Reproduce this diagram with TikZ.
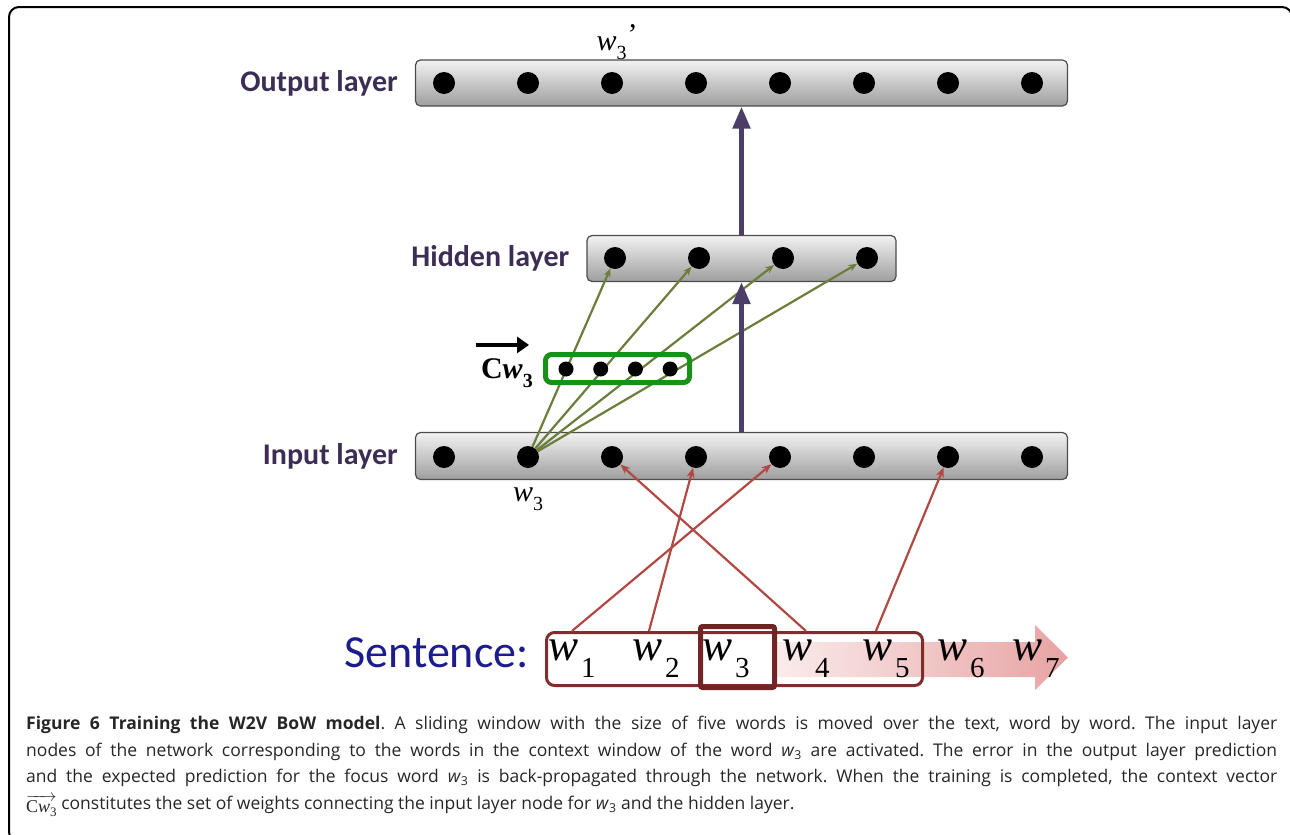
\documentclass[tikz,border=0pt]{standalone}
\usepackage{fontspec}
\setmainfont{Liberation Serif}
\newfontfamily\labelfont{Carlito}
\newfontfamily\captionfont{Open Sans}
\usetikzlibrary{arrows.meta,positioning}
\frenchspacing

\definecolor{layerink}{RGB}{60,45,85}
\definecolor{flowpurple}{RGB}{75,62,105}
\definecolor{ctxgreen}{RGB}{107,125,58}
\definecolor{boxgreen}{RGB}{25,145,25}
\definecolor{ctxred}{RGB}{178,72,66}
\definecolor{winred}{RGB}{128,45,45}
\definecolor{focusred}{RGB}{112,36,36}
\definecolor{sentblue}{RGB}{28,28,140}
\definecolor{pinklo}{RGB}{250,235,235}
\definecolor{pinkhi}{RGB}{232,163,163}

\newcommand{\sentword}[1]{{\fontsize{45}{45}\selectfont\itshape w}\kern3pt\raisebox{-17pt}{\fontsize{29}{29}\selectfont #1}}
\newcommand{\smallw}{{\fontsize{30}{30}\selectfont\itshape w}\raisebox{-9pt}{\fontsize{20}{20}\selectfont 3}}
\newcommand{\cwvec}{\raisebox{-3pt}{\smash{$\overrightarrow{\hbox{\rmfamily\fontsize{18}{18}\selectfont C\textit{w}\raisebox{-4pt}{\fontsize{13}{13}\selectfont 3}}}$}}}

\begin{document}
\begin{tikzpicture}[x=1pt,y=-1pt,
  layerbar/.style={draw=black!70, line width=1.2pt, rounded corners=5pt,
    top color=black!5, bottom color=black!38, minimum height=46pt},
  layerlabel/.style={font=\labelfont\bfseries\fontsize{30}{30}\selectfont,
    text=layerink, inner sep=0pt},
  unit/.style={circle, fill=black, minimum size=22pt, inner sep=0pt},
  smallunit/.style={circle, fill=black, minimum size=15pt, inner sep=0pt},
  upflow/.style={draw=flowpurple, line width=5pt, -{Triangle[length=22pt,width=17pt]}},
  ctxline/.style={draw=ctxgreen, line width=2.2pt, -{Stealth[length=9pt,width=7pt]}},
  winline/.style={draw=ctxred, line width=2.2pt, -{Stealth[length=10pt,width=8pt]}},
  word/.style={inner sep=0pt, anchor=base west}]

  \useasboundingbox (0,0) rectangle (1290,835);
  \clip (0,0) rectangle (1290,835);
  \draw[line width=2pt, rounded corners=10pt] (9,7) rectangle (1292,842);

  % layers
  \node[layerbar, minimum width=652pt] (outbar) at (741.5,83) {};
  \node[layerbar, minimum width=309pt] (hidbar) at (741.5,258.5) {};
  \node[layerbar, minimum width=652pt, minimum height=47pt] (inbar) at (741.5,456) {};
  \node[layerlabel, left=17pt of outbar] (outlab) {Output layer};
  \node[layerlabel, left=17pt of hidbar] (hidlab) {Hidden layer};
  \node[layerlabel, left=17pt of inbar] (inlab) {Input layer};

  \foreach \i in {1,...,8} {
    \node[unit] (out\i) at ({444+84*(\i-1)},83) {};
    \node[unit] (in\i) at ({444+84*(\i-1)},457) {};
  }
  \foreach \i in {1,...,4}
    \node[unit] (hid\i) at ({615+84*(\i-1)},258) {};

  \node[inner sep=0pt] (wout) at (617,42) {\smallw\kern1pt\raisebox{6pt}{\fontsize{30}{30}\selectfont '}};
  \node[inner sep=0pt, below=19pt of in2] (win) {\smallw};

  % context vector of w3
  \foreach \j in {1,...,4}
    \draw[ctxline] (in2) -- (hid\j);
  \node[draw=boxgreen, line width=5pt, rounded corners=6pt,
    minimum width=144pt, minimum height=28pt] (cvbox) at (617.5,368.5) {};
  \foreach \i in {1,...,4}
    \node[smallunit] (cv\i) at ({566+34.7*(\i-1)},369) {};
  \node[inner sep=0pt, anchor=base east] (cwlab) at (533,378)
    {{\fontsize{30}{30}\selectfont\bfseries C\textit{w}}\raisebox{-9pt}{\fontsize{20}{20}\selectfont\bfseries 3}};
  \draw[line width=4pt, -{Triangle[length=12pt,width=16pt]}]
    ([xshift=-5pt,yshift=13pt]cwlab.north west) -- ([xshift=-4pt,yshift=13pt]cwlab.north east);

  \draw[upflow] (inbar.north) -- (hidbar.south);
  \draw[upflow] (hidbar.north) -- (outbar.south);

  % sentence
  \shade[left color=pinklo, right color=pinkhi]
    (777,642) -- (1035,642) -- (1035,625) -- (1068,657.5) -- (1035,690)
    -- (1035,677) -- (777,677) -- cycle;
  \node[font=\labelfont\fontsize{46}{46}\selectfont, text=sentblue, inner sep=0pt,
    anchor=base east] (sentence) at (529,667) {Sentence:};
  \foreach \i/\x in {1/548,2/632,3/702,4/782,5/862,6/937,7/1012}
    \node[word] (w\i) at (\x,660) {\sentword{\i}};
  \node[draw=winred, line width=3pt, rounded corners=8pt,
    minimum width=376pt, minimum height=53pt] (window) at (734.5,659) {};
  \node[draw=focusred, line width=5pt, rounded corners=2pt,
    minimum width=74pt, minimum height=61pt] (focus) at (737.5,657) {};

  \draw[winline] (w1 |- window.north) -- (in5);
  \draw[winline] ([xshift=-7pt]w2 |- window.north) -- (in4);
  \draw[winline] (w4 |- window.north) -- (in3);
  \draw[winline] ([xshift=-10pt]w5 |- window.north) -- (in7);

  % caption
  \node[anchor=north west, inner sep=0pt, text width=1251pt, align=justify,
    font=\captionfont\fontsize{17.5}{26.5}\selectfont, text=black!85] (caption) at (26,716)
    {\textbf{Figure 6 Training the W2V BoW model}. A sliding window with the size of five words is moved over the text, word by word. The input layer\linebreak
    nodes of the network corresponding to the words in the context window of the word \textit{w}\textsubscript{3} are activated. The error in the output layer prediction\linebreak
    and the expected prediction for the focus word \textit{w}\textsubscript{3} is back-propagated through the network. When the training is completed, the context vector\linebreak
    \cwvec{} constitutes the set of weights connecting the input layer node for \textit{w}\textsubscript{3} and the hidden layer.};
\end{tikzpicture}
\end{document}
